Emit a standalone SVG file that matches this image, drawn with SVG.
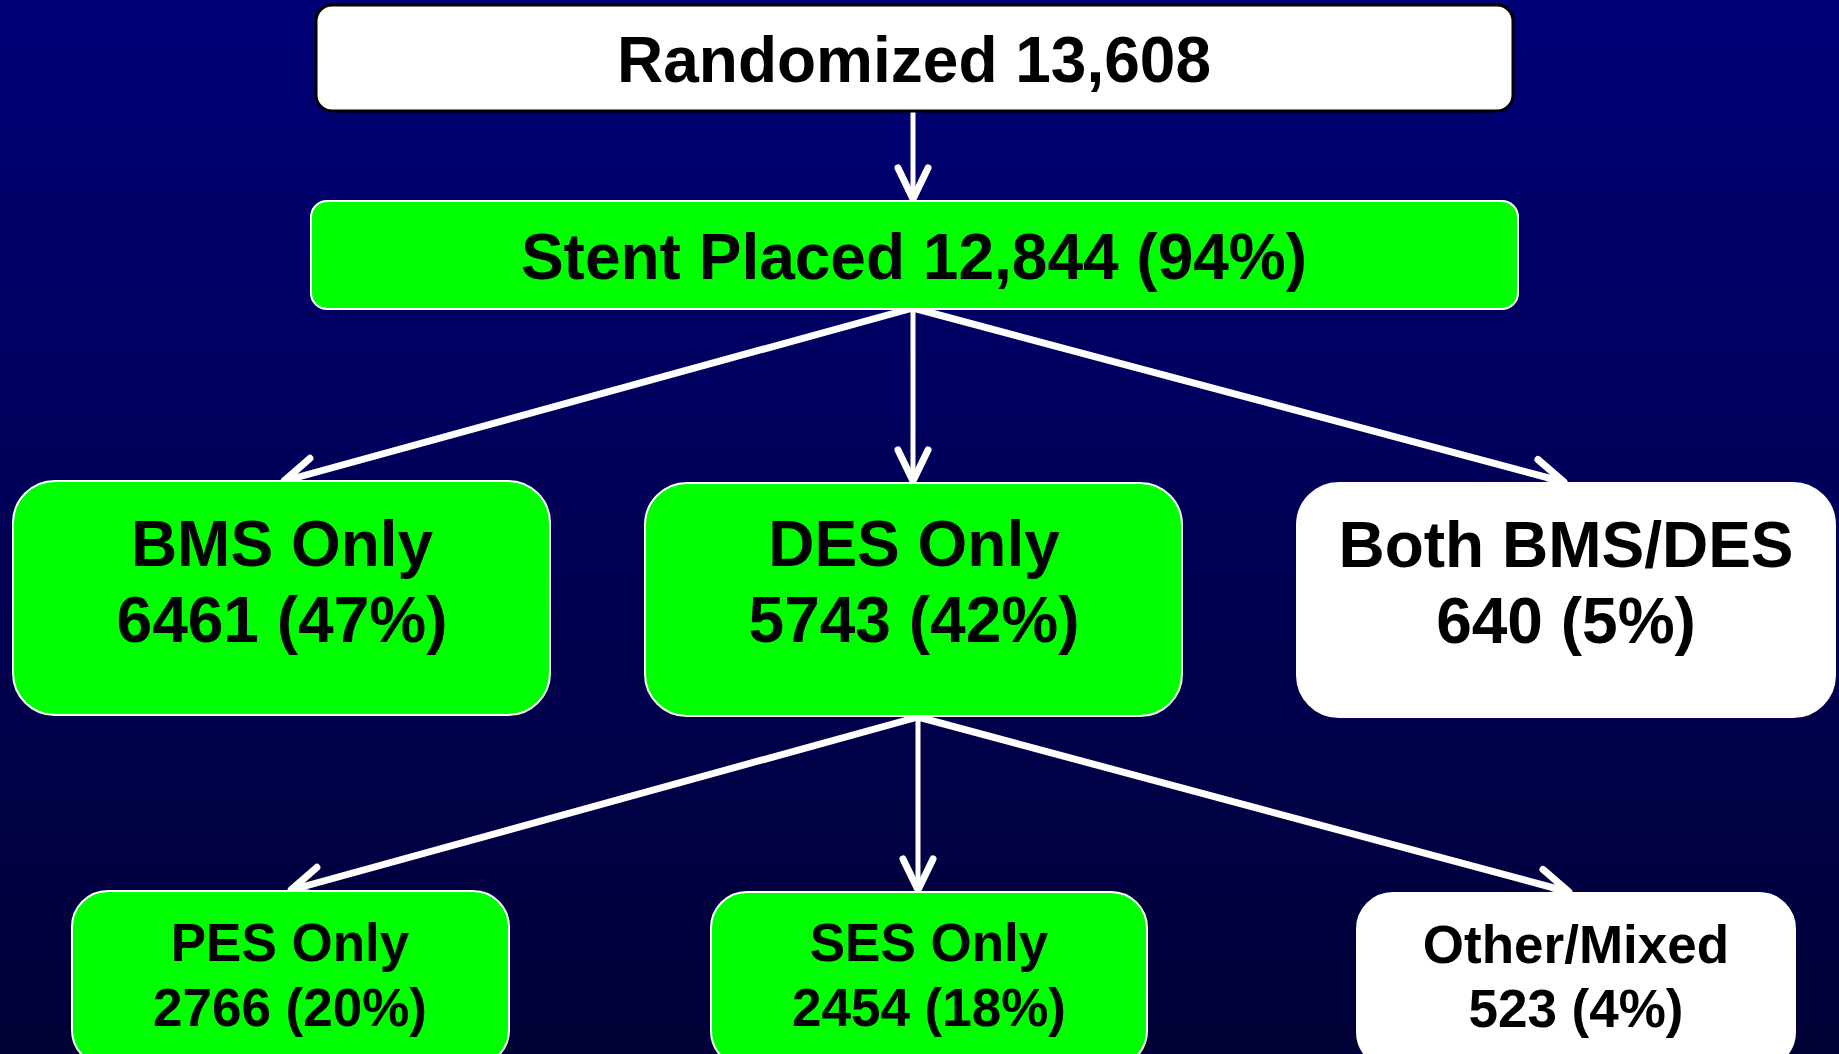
<svg xmlns="http://www.w3.org/2000/svg" width="1839" height="1054" viewBox="0 0 1839 1054">
<defs>
<linearGradient id="bg" x1="0" y1="0" x2="0" y2="1">
<stop offset="0" stop-color="#000078"/>
<stop offset="1" stop-color="#000036"/>
</linearGradient>
<marker id="arr" markerUnits="userSpaceOnUse" markerWidth="60" markerHeight="60" viewBox="-40 -30 50 60" refX="0" refY="0" orient="auto">
<path d="M -31 -15 L 0 0 L -31 15" fill="none" stroke="#fff" stroke-width="7" stroke-linecap="round" stroke-linejoin="round"/>
</marker>
<style>
.t{font-family:"Liberation Sans",Arial,sans-serif;font-weight:bold;fill:#000;text-anchor:middle}
.green{fill:#00ff00;stroke:#fff;stroke-width:2}
.white{fill:#fff;stroke:#fff;stroke-width:2}
.c{stroke:#fff;fill:none;marker-end:url(#arr)}
.thin{stroke-width:5}
.thick{stroke-width:7}
</style>
</defs>
<rect width="1839" height="1054" fill="url(#bg)"/>
<g id="connectors">
<line class="c thin" x1="913" y1="112" x2="913" y2="199"/>
<line class="c thin" x1="913" y1="308" x2="913" y2="481"/>
<line class="c thick" x1="913" y1="308" x2="284" y2="481"/>
<line class="c thick" x1="913" y1="308" x2="1564" y2="482"/>
<line class="c thin" x1="918" y1="717" x2="918" y2="890"/>
<line class="c thick" x1="918" y1="717" x2="291" y2="890"/>
<line class="c thick" x1="918" y1="717" x2="1569" y2="892"/>
</g>
<g id="randomized">
<rect x="316" y="5" width="1197" height="106" rx="16" fill="#fff" stroke="#000" stroke-width="3"/>
<text class="t" x="914" y="82" font-size="64">Randomized 13,608</text>
</g>
<g id="stent">
<rect class="green" x="311" y="201" width="1207" height="108" rx="16"/>
<text class="t" x="914" y="279" font-size="64">Stent Placed 12,844 (94%)</text>
</g>
<g id="bms">
<rect class="green" x="13" y="481" width="537" height="234" rx="42"/>
<text class="t" x="282" y="566" font-size="64">BMS Only</text>
<text class="t" x="282" y="642" font-size="64">6461 (47%)</text>
</g>
<g id="des">
<rect class="green" x="645" y="483" width="537" height="233" rx="42"/>
<text class="t" x="914" y="566" font-size="64">DES Only</text>
<text class="t" x="914" y="642" font-size="64">5743 (42%)</text>
</g>
<g id="both">
<rect class="white" x="1297" y="483" width="538" height="234" rx="42"/>
<text class="t" x="1566" y="567" font-size="64">Both BMS/DES</text>
<text class="t" x="1566" y="643" font-size="64">640 (5%)</text>
</g>
<g id="pes">
<rect class="green" x="72" y="891" width="437" height="175" rx="36"/>
<text class="t" x="290" y="961" font-size="53">PES Only</text>
<text class="t" x="290" y="1026" font-size="53">2766 (20%)</text>
</g>
<g id="ses">
<rect class="green" x="711" y="892" width="436" height="175" rx="36"/>
<text class="t" x="929" y="961" font-size="53">SES Only</text>
<text class="t" x="929" y="1026" font-size="53">2454 (18%)</text>
</g>
<g id="other">
<rect class="white" x="1357" y="893" width="438" height="175" rx="36"/>
<text class="t" x="1576" y="963" font-size="53">Other/Mixed</text>
<text class="t" x="1576" y="1027" font-size="53">523 (4%)</text>
</g>
</svg>
